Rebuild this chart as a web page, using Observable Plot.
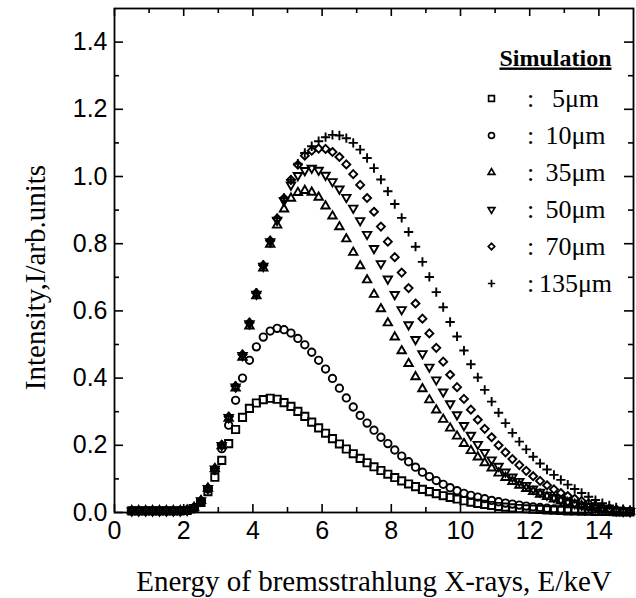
<!DOCTYPE html>
<html><head><meta charset="utf-8">
<script src="https://cdn.jsdelivr.net/npm/d3@7"></script>
<script src="https://cdn.jsdelivr.net/npm/@observablehq/plot@0.6"></script>
<style>body{margin:0;background:#fff}</style>
</head><body><div id="chart"></div>
<script>
// ---- data ----
const energies = [0.5,0.7,0.9,1.1,1.3,1.5,1.7,1.9,2.1,2.3,2.5,2.7,2.9,3.1,3.3,3.5,3.7,3.9,4.1,4.3,4.5,4.7,4.9,5.1,5.3,5.5,5.7,5.9,6.1,6.3,6.5,6.7,6.9,7.1,7.3,7.5,7.7,7.9,8.1,8.3,8.5,8.7,8.9,9.1,9.3,9.5,9.7,9.9,10.1,10.3,10.5,10.7,10.9,11.1,11.3,11.5,11.7,11.9,12.1,12.3,12.5,12.7,12.9,13.1,13.3,13.5,13.7,13.9,14.1,14.3,14.5,14.7,14.9];

const s5 = [0.005,0.005,0.005,0.005,0.005,0.005,0.005,0.005,
  0.006,0.012,0.03,0.062,0.105,0.155,0.205,0.247,0.283,0.31,0.326,0.336,0.34,0.337,0.327,0.316,0.301,0.286,0.269,0.252,0.236,
  0.22,0.204,0.189,0.175,0.161,0.148,0.136,0.125,0.114,0.104,0.094,0.085,0.077,0.069,0.062,0.056,0.05,0.045,0.04,0.035,0.031,
  0.027,0.024,0.021,0.018,0.016,0.014,0.012,0.011,0.01,0.009,0.008,0.007,0.006,0.005,0.005,0.004,0.004,0.003,0.003,0.003,0.002,0.002,0.002];

const s10 = [0.005,0.005,0.005,0.005,0.005,0.005,0.005,0.005,
  0.007,0.014,0.033,0.07,0.125,0.19,0.26,0.334,0.4,0.453,0.493,0.522,0.54,0.548,0.544,0.534,0.518,0.499,0.477,0.453,0.427,
  0.399,0.37,0.341,0.314,0.289,0.266,0.245,0.224,0.205,0.186,0.168,0.151,0.135,0.12,0.107,0.095,0.084,0.074,0.065,0.057,0.051,
  0.046,0.041,0.036,0.032,0.028,0.025,0.022,0.019,0.017,0.015,0.013,0.011,0.01,0.008,0.007,0.006,0.005,0.004,0.004,0.003,0.003,0.002,0.002];

const s35 = [0.005,0.005,0.005,0.005,0.005,0.005,0.005,0.005,
  0.007,0.015,0.035,0.072,0.13,0.198,0.28,0.37,0.462,0.555,0.645,0.727,0.798,0.855,0.903,0.935,0.952,0.958,0.953,0.938,0.912,
  0.882,0.85,0.814,0.774,0.734,0.692,0.649,0.606,0.564,0.522,0.481,0.443,0.404,0.368,0.335,0.305,0.277,0.251,0.227,0.205,0.184,
  0.165,0.148,0.132,0.117,0.104,0.092,0.081,0.071,0.062,0.054,0.047,0.04,0.034,0.029,0.024,0.02,0.016,0.013,0.01,0.008,0.006,0.004,0.003];

const s50 = [0.005,0.005,0.005,0.005,0.005,0.005,0.005,0.005,
  0.007,0.015,0.035,0.072,0.13,0.2,0.283,0.374,0.468,0.562,0.65,0.733,0.806,0.87,0.928,0.975,1.003,1.018,1.025,1.019,1.004,
  0.985,0.963,0.938,0.906,0.869,0.828,0.786,0.741,0.695,0.649,0.604,0.559,0.515,0.473,0.433,0.395,0.359,0.324,0.291,0.259,0.23,
  0.203,0.179,0.157,0.138,0.121,0.106,0.093,0.081,0.07,0.061,0.052,0.045,0.038,0.032,0.027,0.022,0.018,0.014,0.011,0.008,0.006,0.004,0.003];

const s70 = [0.005,0.005,0.005,0.005,0.005,0.005,0.005,0.005,
  0.007,0.015,0.036,0.073,0.131,0.201,0.285,0.376,0.47,0.565,0.653,0.736,0.809,0.875,0.935,0.99,1.035,1.062,1.077,1.083,1.082,
  1.073,1.058,1.036,1.007,0.975,0.936,0.895,0.851,0.806,0.76,0.714,0.668,0.622,0.577,0.533,0.49,0.449,0.41,0.373,0.338,0.306,
  0.276,0.249,0.224,0.2,0.179,0.159,0.141,0.124,0.108,0.094,0.081,0.069,0.058,0.049,0.041,0.034,0.027,0.021,0.016,0.012,0.009,0.006,0.004];

const s135 = [0.005,0.005,0.005,0.005,0.005,0.005,0.005,0.005,
  0.007,0.015,0.036,0.073,0.131,0.201,0.286,0.377,0.471,0.566,0.654,0.737,0.81,0.876,0.936,0.99,1.038,1.07,1.09,1.105,1.117,
  1.124,1.122,1.114,1.1,1.08,1.055,1.025,0.991,0.956,0.918,0.877,0.835,0.791,0.746,0.701,0.656,0.611,0.567,0.524,0.482,0.441,
  0.402,0.365,0.33,0.297,0.266,0.237,0.211,0.188,0.166,0.146,0.128,0.112,0.097,0.083,0.07,0.058,0.047,0.037,0.028,0.021,0.015,0.01,0.006];

const seriesNames = ["5\u03bcm","10\u03bcm","35\u03bcm","50\u03bcm","70\u03bcm","135\u03bcm"];
const seriesValues = [s5, s10, s35, s50, s70, s135];
const legendTitle = "Simulation";
const xTickLabels = [0,2,4,6,8,10,12,14];
const xMinorTicks = [1,3,5,7,9,11,13];
const yTickLabels = [0,0.2,0.4,0.6,0.8,1.0,1.2,1.4];
const yMinorTicks = [0.1,0.3,0.5,0.7,0.9,1.1,1.3];
const xTitle = "Energy of bremsstrahlung X-rays, E/keV";
const yTitle = "Intensity,I/arb.units";

// ---- styles ----
const triangleDown = {
  draw(context, size) {
    const s = Math.sqrt(size) * 0.6824, t = s / 2, u = s * Math.sqrt(3) / 2;
    context.moveTo(0, s); context.lineTo(u, -t); context.lineTo(-u, -t); context.closePath();
  }
};
const symbols = ["square2", "circle", "triangle2", triangleDown, "diamond2", "plus"];
const radii = [4.6, 3.7, 4.0, 4.0, 3.6, 3.1];

const W = 636, H = 598, mL = 114, mR = 3, mT = 8, mB = 86;
const pw = W - mL - mR, ph = H - mT - mB;
const sans = "Liberation Sans, Arial, Helvetica, sans-serif";
const serif = "Liberation Serif, Times New Roman, serif";

const dotMarks = seriesValues.map((vals, i) =>
  Plot.dot(energies.map((e, j) => ({E: e, v: vals[j]})), {
    x: "E", y: "v", symbol: symbols[i], r: radii[i],
    stroke: "black", strokeWidth: 1.9, fill: "none"
  })
);

const legendMarks = seriesNames.flatMap((name, i) => [
  Plot.dot([name], {frameAnchor: "top-left", dx: 377, dy: 90 + 37 * i,
    symbol: symbols[i], r: radii[i] * 0.8, stroke: "black", strokeWidth: 1.7, fill: "none"}),
  Plot.text([":"], {frameAnchor: "top-left", dx: 416, dy: 90 + 37 * i, text: d => d,
    fontFamily: serif, fontSize: 26, textAnchor: "middle", lineAnchor: "middle", fill: "black"}),
  Plot.text([name], {frameAnchor: "top-left", dx: 461, dy: 90 + 37 * i, text: d => d,
    fontFamily: serif, fontSize: 26, textAnchor: "middle", lineAnchor: "middle", fill: "black"})
]);

const chart = Plot.plot({
  width: W, height: H,
  marginLeft: mL, marginRight: mR, marginTop: mT, marginBottom: mB,
  style: {background: "white", color: "black", fontFamily: sans},
  x: {domain: [0, 15]},
  y: {domain: [0, 1.5]},
  marks: [
    Plot.axisX(xTickLabels, {tickSize: 0, tickPadding: 9, fontSize: 25, fontFamily: sans, label: null, tickFormat: d => String(d)}),
    Plot.axisY(yTickLabels, {tickSize: 0, tickPadding: 7, fontSize: 25, fontFamily: sans, label: null, tickFormat: d => d.toFixed(1)}),
    // inward ticks on all four sides
    Plot.tickX(xTickLabels, {x: d => d, insetTop: ph - 8, stroke: "black", strokeWidth: 1.6}),
    Plot.tickX(xTickLabels, {x: d => d, insetBottom: ph - 8, stroke: "black", strokeWidth: 1.6}),
    Plot.tickX(xMinorTicks, {x: d => d, insetTop: ph - 5, stroke: "black", strokeWidth: 1.6}),
    Plot.tickX(xMinorTicks, {x: d => d, insetBottom: ph - 5, stroke: "black", strokeWidth: 1.6}),
    Plot.tickY(yTickLabels, {y: d => d, insetRight: pw - 9, stroke: "black", strokeWidth: 1.6}),
    Plot.tickY(yTickLabels, {y: d => d, insetLeft: pw - 9, stroke: "black", strokeWidth: 1.6}),
    Plot.tickY(yMinorTicks, {y: d => d, insetRight: pw - 5, stroke: "black", strokeWidth: 1.6}),
    Plot.tickY(yMinorTicks, {y: d => d, insetLeft: pw - 5, stroke: "black", strokeWidth: 1.6}),
    Plot.frame({stroke: "black", strokeWidth: 1.8}),
    ...dotMarks,
    Plot.text([xTitle], {frameAnchor: "bottom", dy: 78, text: d => d, fontFamily: serif, fontSize: 29,
      textAnchor: "middle", lineAnchor: "bottom", fill: "black"}),
    Plot.text([yTitle], {frameAnchor: "left", dx: -70, dy: 17, rotate: -90, text: d => d, fontFamily: serif, fontSize: 29,
      textAnchor: "middle", lineAnchor: "bottom", fill: "black"}),
    Plot.text([legendTitle], {frameAnchor: "top-left", dx: 441, dy: 57, text: d => d, fontFamily: serif, fontSize: 24,
      fontWeight: "bold", textAnchor: "middle", lineAnchor: "bottom", fill: "black"}),
    ...legendMarks
  ]
});

d3.select(chart).selectAll("text").filter(function() { return this.textContent === legendTitle; })
  .attr("text-decoration", "underline");

document.getElementById("chart").appendChild(chart);
</script>
</body></html>
